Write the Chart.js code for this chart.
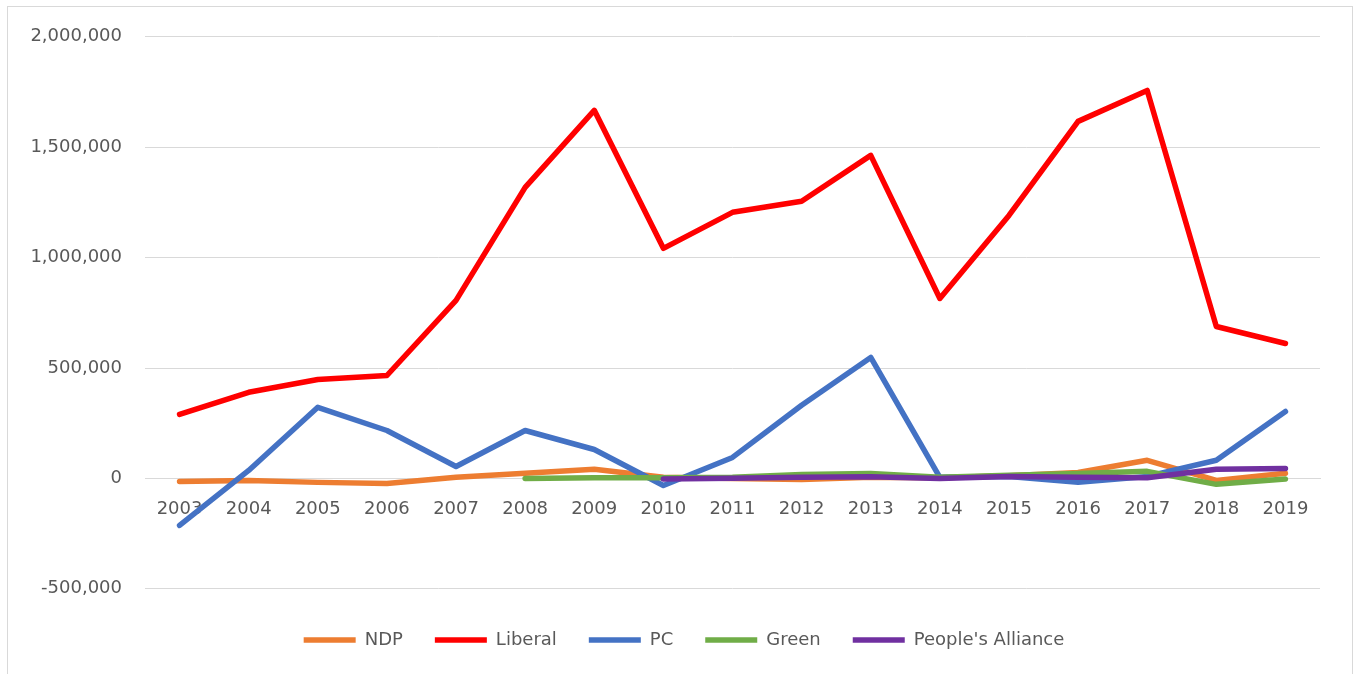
<!DOCTYPE html>
<html>
<head>
<meta charset="utf-8">
<script src="https://cdn.jsdelivr.net/npm/chart.js@4.4.0/dist/chart.umd.min.js"></script>
<style>
  html, body { margin: 0; padding: 0; background: #fff; overflow: hidden; }
  #box {
    position: absolute; left: 7px; top: 6px;
    width: 1344px; height: 680px;
    border: 1px solid #d9d9d9; background: #fff;
    overflow: hidden;
  }
  #inner { position: relative; top: -4px; width: 1344px; height: 680px; }
</style>
</head>
<body>
<div id="box"><div id="inner"><canvas id="partyChart"></canvas></div></div>
<script>
// Years on the x axis
const years = ['2003', '2004', '2005', '2006', '2007', '2008', '2009', '2010', '2011',
               '2012', '2013', '2014', '2015', '2016', '2017', '2018', '2019'];

// Values per party
const ndp = [-14000, -9000, -18000, -23000, 5000, 23000, 41000, 5000, 0,
             -5000, 5000, 3000, 12000, 27000, 82000, -9000, 23000];
const liberal = [290000, 390000, 448000, 466000, 806000, 1318000, 1667000, 1042000, 1205000,
                 1255000, 1463000, 815000, 1191000, 1617000, 1757000, 688000, 611000];
const pc = [-213000, 36000, 322000, 217000, 54000, 217000, 131000, -32000, 95000,
            331000, 548000, 5000, 9000, -18000, 9000, 82000, 303000];
const green = [null, null, null, null, null, 0, 3000, 3000, 5000,
               18000, 22000, 5000, 14000, 22000, 32000, -27000, -3000];
const peoplesAlliance = [null, null, null, null, null, null, null, -3000, 1000,
                         5000, 8000, 0, 9000, 5000, 3000, 41000, 45000];

// Y axis range
const yMin = -500000;
const yMax = 2000000;
const yStep = 500000;

const FONT = 'DejaVu Sans';
const TEXT_COLOR = '#595959';
const GRID_COLOR = '#d9d9d9';

function serie(label, data, color, order) {
    return {
        label: label,
        data: data,
        borderColor: color,
        backgroundColor: color,
        borderWidth: 5.5,
        borderCapStyle: 'round',
        borderJoinStyle: 'round',
        pointRadius: 0,
        pointHoverRadius: 0,
        tension: 0,
        spanGaps: false,
        order: order
    };
}

// legend is centred on the whole frame in the original, not just the plot width
const legendShift = {
    id: 'legendShift',
    afterUpdate(chart) {
        chart.legend.left += 20;
        chart.legend.right += 20;
    }
};

const ctx = document.getElementById('partyChart').getContext('2d');

const partyChart = new Chart(ctx, {
    type: 'line',
    data: {
        labels: years,
        datasets: [
            serie('NDP', ndp, '#ED7D31', 5),
            serie('Liberal', liberal, '#FF0000', 4),
            serie('PC', pc, '#4472C4', 3),
            serie('Green', green, '#70AD47', 2),
            serie("People's Alliance", peoplesAlliance, '#7030A0', 1)
        ]
    },
    plugins: [legendShift],
    options: {
        responsive: true,
        maintainAspectRatio: false,
        animation: false,
        layout: { padding: { top: 25, right: 32, bottom: 24, left: 0 } },
        plugins: {
            tooltip: { enabled: false },
            legend: {
                position: 'bottom',
                // empty title just to push the legend items down from the plot
                title: { display: true, text: ' ', font: { size: 1 }, padding: { top: 9, bottom: 0 } },
                labels: {
                    usePointStyle: true,
                    pointStyle: 'line',
                    pointStyleWidth: 52,
                    boxHeight: 18,
                    padding: 32,
                    color: TEXT_COLOR,
                    font: { family: FONT, size: 18 },
                    sort: (a, b) => a.datasetIndex - b.datasetIndex
                }
            }
        },
        scales: {
            x: {
                position: { y: 0 },
                offset: true,
                grid: { display: false, drawTicks: false },
                border: { display: true, color: GRID_COLOR, width: 1 },
                ticks: {
                    color: TEXT_COLOR,
                    font: { family: FONT, size: 18 },
                    padding: 20,
                    maxRotation: 0,
                    autoSkip: false
                }
            },
            y: {
                min: yMin,
                max: yMax,
                afterFit: (scale) => { scale.width = 137; },
                grid: { color: GRID_COLOR, drawTicks: false },
                border: { display: false },
                ticks: {
                    stepSize: yStep,
                    padding: 23,
                    color: TEXT_COLOR,
                    font: { family: FONT, size: 18 },
                    callback: (v) => v.toLocaleString('en-US')
                }
            }
        }
    }
});
</script>
</body>
</html>
